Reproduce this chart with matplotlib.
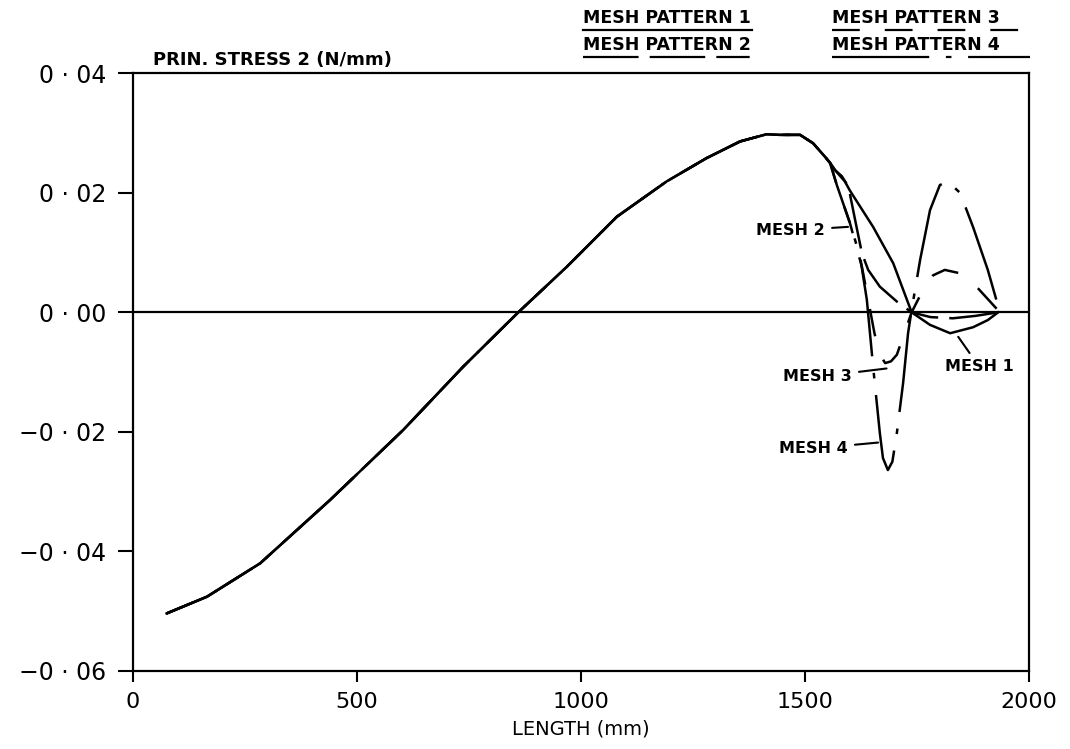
import matplotlib
matplotlib.use("Agg")
import matplotlib.pyplot as plt
from matplotlib.lines import Line2D

# shared part of all four curves
main_x = [75, 165, 284, 440, 603, 737, 860, 968, 1080, 1191, 1280, 1355, 1414, 1444, 1489, 1518, 1545, 1556]
main_y = [-0.0504, -0.0476, -0.0420, -0.0314, -0.0197, -0.0091, 0.0, 0.0076, 0.0160, 0.0219,
          0.0258, 0.0286, 0.0298, 0.0297, 0.0297, 0.0283, 0.0260, 0.0250]

# tails where the meshes differ
m1_x = [1567, 1589, 1600, 1652, 1697, 1738, 1779, 1824, 1875, 1908, 1931]
m1_y = [0.0238, 0.0219, 0.0204, 0.0143, 0.0082, 0.0, -0.0021, -0.0035, -0.0025, -0.0013, 0.0]
m2_x = [1567, 1582, 1597, 1612, 1627, 1641, 1667, 1705, 1738, 1780, 1830, 1880, 1931]
m2_y = [0.0238, 0.0228, 0.0210, 0.0154, 0.0099, 0.0071, 0.0043, 0.0018, 0.0, -0.0008, -0.0010, -0.0006, 0.0]
m3_x = [1571, 1600, 1627, 1641, 1655, 1667, 1679, 1692, 1705, 1738, 1765, 1786, 1812, 1842, 1879, 1935]
m3_y = [0.0213, 0.0150, 0.0076, 0.0021, -0.0035, -0.0071, -0.0085, -0.0082, -0.0071, 0.0,
        0.0040, 0.0062, 0.0071, 0.0066, 0.0046, 0.0]
m4_x = [1571, 1600, 1623, 1638, 1652, 1667, 1674, 1685, 1695, 1705, 1719, 1730, 1738, 1757,
        1779, 1801, 1819, 1846, 1875, 1908, 1935]
m4_y = [0.0213, 0.0150, 0.0093, 0.0021, -0.0091, -0.0202, -0.0244, -0.0264, -0.0250, -0.0202,
        -0.0118, -0.0035, 0.0004, 0.0088, 0.0171, 0.0213, 0.0219, 0.0200, 0.0143, 0.0071, 0.0]

x_ticks = [0, 500, 1000, 1500, 2000]
y_ticks = [-0.06, -0.04, -0.02, 0.0, 0.02, 0.04]
y_ticklabels = ["−0 · 06", "−0 · 04", "−0 · 02", "0 · 00", "0 · 02", "0 · 04"]

plt.rcParams['font.family'] = 'DejaVu Sans'
plt.rcParams['lines.scale_dashes'] = False

styles = {
    "1": dict(ls="-"),
    "2": dict(ls=(0, (40, 8, 40, 8, 24, 8))),
    "3": dict(ls=(0, (20, 18))),
    "4": dict(ls=(0, (70, 12, 4, 12))),
}

fig = plt.figure(figsize=(10.7, 7.49), dpi=100)
ax = fig.add_axes([0.1243, 0.1044, 0.8374, 0.7977])

lw = 1.8
for key, tx, ty in [("1", m1_x, m1_y), ("2", m2_x, m2_y), ("3", m3_x, m3_y), ("4", m4_x, m4_y)]:
    ax.plot(main_x + tx, main_y + ty, color="black", lw=lw, **styles[key])

ax.axhline(0, color="black", lw=1.6)

ax.set_xlim(0, 2000)
ax.set_ylim(-0.06, 0.04)
ax.set_xticks(x_ticks)
ax.set_xticklabels([str(v) for v in x_ticks], fontsize=16)
ax.set_yticks(y_ticks)
ax.set_yticklabels(y_ticklabels, fontsize=17)
ax.tick_params(axis="y", direction="out", length=11, width=1.5, pad=8)
ax.tick_params(axis="x", direction="out", length=8, width=1.5, pad=7)
for s in ax.spines.values():
    s.set_linewidth(1.6)

ax.set_xlabel("LENGTH (mm)", fontsize=14, labelpad=6)
fig.text(153 / 1070, 1 - 60 / 749, "PRIN. STRESS 2 (N/mm)", fontsize=13, fontweight="bold", va="center")

# curve labels
lab = dict(fontsize=11.5, fontweight="bold", va="center")
arr = dict(arrowstyle="-", lw=1.5, color="black", shrinkA=3, shrinkB=0)
ax.annotate("MESH 2", xy=(1596, 0.0143), xytext=(1545, 0.0137), ha="right", arrowprops=arr, **lab)
ax.annotate("MESH 3", xy=(1682, -0.0094), xytext=(1605, -0.0108), ha="right", arrowprops=arr, **lab)
ax.annotate("MESH 4", xy=(1663, -0.0218), xytext=(1596, -0.0228), ha="right", arrowprops=arr, **lab)
ax.annotate("MESH 1", xy=(1842, -0.0041), xytext=(1812, -0.0091), ha="left", arrowprops=arr, **lab)

# legend: text with the line style as underline
leg = [("MESH PATTERN 1", "1", 583, 752, 18),
       ("MESH PATTERN 2", "2", 583, 752, 45),
       ("MESH PATTERN 3", "3", 832, 1030, 18),
       ("MESH PATTERN 4", "4", 832, 1030, 45)]
for text, key, x0, x1, yc in leg:
    fig.text(x0 / 1070, 1 - yc / 749, text, fontsize=12.5, fontweight="bold", va="center")
    fig.add_artist(Line2D([x0 / 1070, x1 / 1070], [1 - (yc + 12) / 749] * 2,
                          transform=fig.transFigure, color="black", lw=1.6, **styles[key]))

fig.savefig("out.png", dpi=100)
